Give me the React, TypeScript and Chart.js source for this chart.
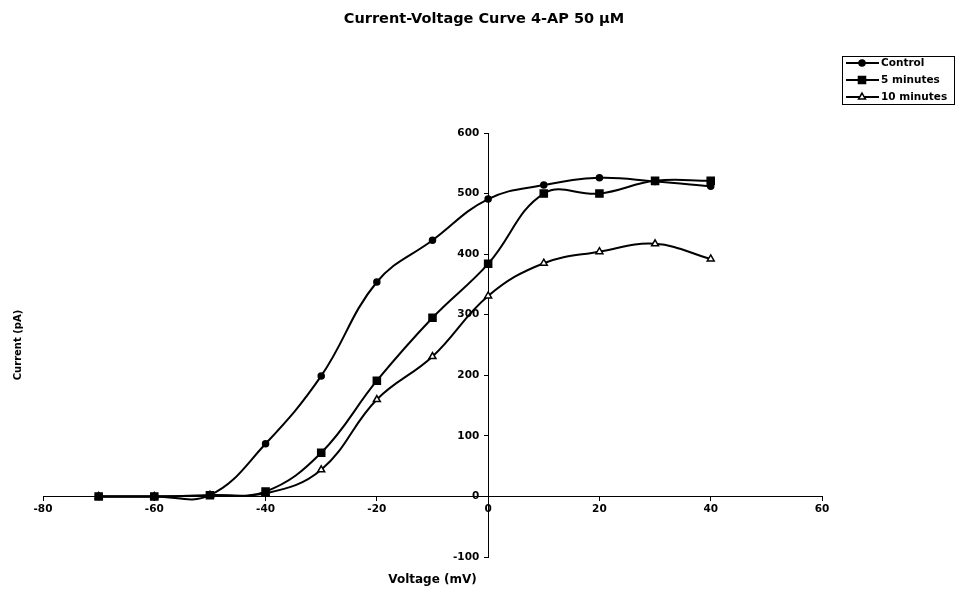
import React, { useEffect, useRef } from "react";
import { Chart, registerables } from "chart.js";

Chart.register(...registerables);

const voltages = [-70, -60, -50, -40, -30, -20, -10, 0, 10, 20, 30, 40];
const controlCurrent = [0, 0, 2, 87, 199, 354, 423, 491, 514, 526, 520, 512];
const fiveMinCurrent = [0, 0, 2, 8, 72, 191, 295, 384, 500, 500, 521, 521];
const tenMinCurrent = [0, 0, 2, 5, 44, 160, 231, 331, 385, 404, 417, 392];
const seriesNames = ["Control", "5 minutes", "10 minutes"];
const chartTitle = "Current-Voltage Curve 4-AP 50 \u00B5M";
const xTitle = "Voltage (mV)";
const yTitle = "Current (pA)";

const FONT = '"DejaVu Sans", "Liberation Sans", Arial, sans-serif';

function drawMarker(ctx: CanvasRenderingContext2D, style: string, x: number, y: number, r: number, fill: string) {
  ctx.beginPath();
  if (style === "circle") {
    ctx.arc(x, y, r, 0, Math.PI * 2);
  } else if (style === "rect") {
    const s = r * Math.SQRT1_2;
    ctx.rect(x - s, y - s, 2 * s, 2 * s);
  } else if (style === "triangle") {
    ctx.moveTo(x, y - r);
    ctx.lineTo(x + r * Math.sin(Math.PI / 3), y + r / 2);
    ctx.lineTo(x - r * Math.sin(Math.PI / 3), y + r / 2);
    ctx.closePath();
  }
  ctx.fillStyle = fill;
  ctx.fill();
  ctx.lineWidth = 1.5;
  ctx.strokeStyle = "#000";
  ctx.stroke();
}

const textPlugin = {
  id: "ivText",
  afterDraw(chart: any) {
    const ctx: CanvasRenderingContext2D = chart.ctx;
    const a = chart.chartArea;
    ctx.save();
    ctx.fillStyle = "#000";
    ctx.textAlign = "center";
    ctx.textBaseline = "middle";
    ctx.font = `bold 14.5px ${FONT}`;
    ctx.fillText(chartTitle, 484, 19);
    ctx.font = `bold 12px ${FONT}`;
    ctx.fillText(xTitle, (a.left + a.right) / 2, 580);
    ctx.save();
    ctx.translate(18, (a.top + a.bottom) / 2);
    ctx.rotate(-Math.PI / 2);
    ctx.font = `bold 10px ${FONT}`;
    ctx.fillText(yTitle, 0, 0);
    ctx.restore();

    // legend
    const lx = 842.5, ly = 56.5, lw = 112, lh = 48;
    ctx.lineWidth = 1;
    ctx.strokeStyle = "#000";
    ctx.strokeRect(lx, ly, lw, lh);
    const rowY = [63, 80, 97];
    ctx.textAlign = "left";
    ctx.font = `bold 10.5px ${FONT}`;
    chart.data.datasets.forEach((ds: any, i: number) => {
      const y = rowY[i];
      ctx.beginPath();
      ctx.moveTo(846, y);
      ctx.lineTo(879, y);
      ctx.lineWidth = 2;
      ctx.strokeStyle = "#000";
      ctx.stroke();
      drawMarker(ctx, ds.pointStyle, 862, y, ds.pointRadius, ds.pointBackgroundColor);
      ctx.fillStyle = "#000";
      ctx.fillText(ds.label, 881, y + 0.5);
    });
    ctx.restore();
  },
};

export default function App() {
  const ref = useRef<HTMLCanvasElement | null>(null);
  useEffect(() => {
    if (!ref.current) return;
    const mk = (label: string, values: number[], style: string, r: number, fill: string) => ({
      label,
      data: voltages.map((v, i) => ({ x: v, y: values[i] })),
      borderColor: "#000",
      borderWidth: 2,
      tension: 0.4,
      pointStyle: style,
      pointRadius: r,
      pointBackgroundColor: fill,
      pointBorderColor: "#000",
      pointBorderWidth: 1.5,
      fill: false,
    });
    const chart = new Chart(ref.current, {
      type: "line",
      data: {
        datasets: [
          mk(seriesNames[0], controlCurrent, "circle", 3, "#000"),
          mk(seriesNames[1], fiveMinCurrent, "rect", 5, "#000"),
          mk(seriesNames[2], tenMinCurrent, "triangle", 4, "#fff"),
        ] as any,
      },
      options: {
        animation: false,
        responsive: false,
        devicePixelRatio: 1,
        layout: { padding: { left: 43, right: 133, top: 133, bottom: 33 } },
        plugins: {
          legend: { display: false },
          title: { display: false },
          tooltip: { enabled: false },
        },
        scales: {
          x: {
            type: "linear",
            min: -80,
            max: 60,
            position: { y: 0 } as any,
            grid: { drawOnChartArea: false, drawTicks: true, tickLength: 4, color: "#000" },
            border: { display: true, color: "#000", width: 1 },
            ticks: {
              stepSize: 20,
              padding: 3,
              color: "#000",
              font: { family: FONT, size: 10.5, weight: "bold" },
            },
          },
          y: {
            type: "linear",
            min: -100,
            max: 600,
            position: { x: 0 } as any,
            grid: { drawOnChartArea: false, drawTicks: true, tickLength: 4, color: "#000" },
            border: { display: true, color: "#000", width: 1 },
            ticks: {
              stepSize: 100,
              color: "#000",
              font: { family: FONT, size: 10.5, weight: "bold" },
              callback: (v: any) => `${v} \u2002`,
            },
          },
        },
      },
      plugins: [textPlugin],
    });
    return () => chart.destroy();
  }, []);
  return (
    <div style={{ position: "fixed", left: 0, top: 0, width: 955, height: 590, background: "#fff" }}>
      <canvas ref={ref} width={955} height={590} style={{ display: "block" }} />
    </div>
  );
}
